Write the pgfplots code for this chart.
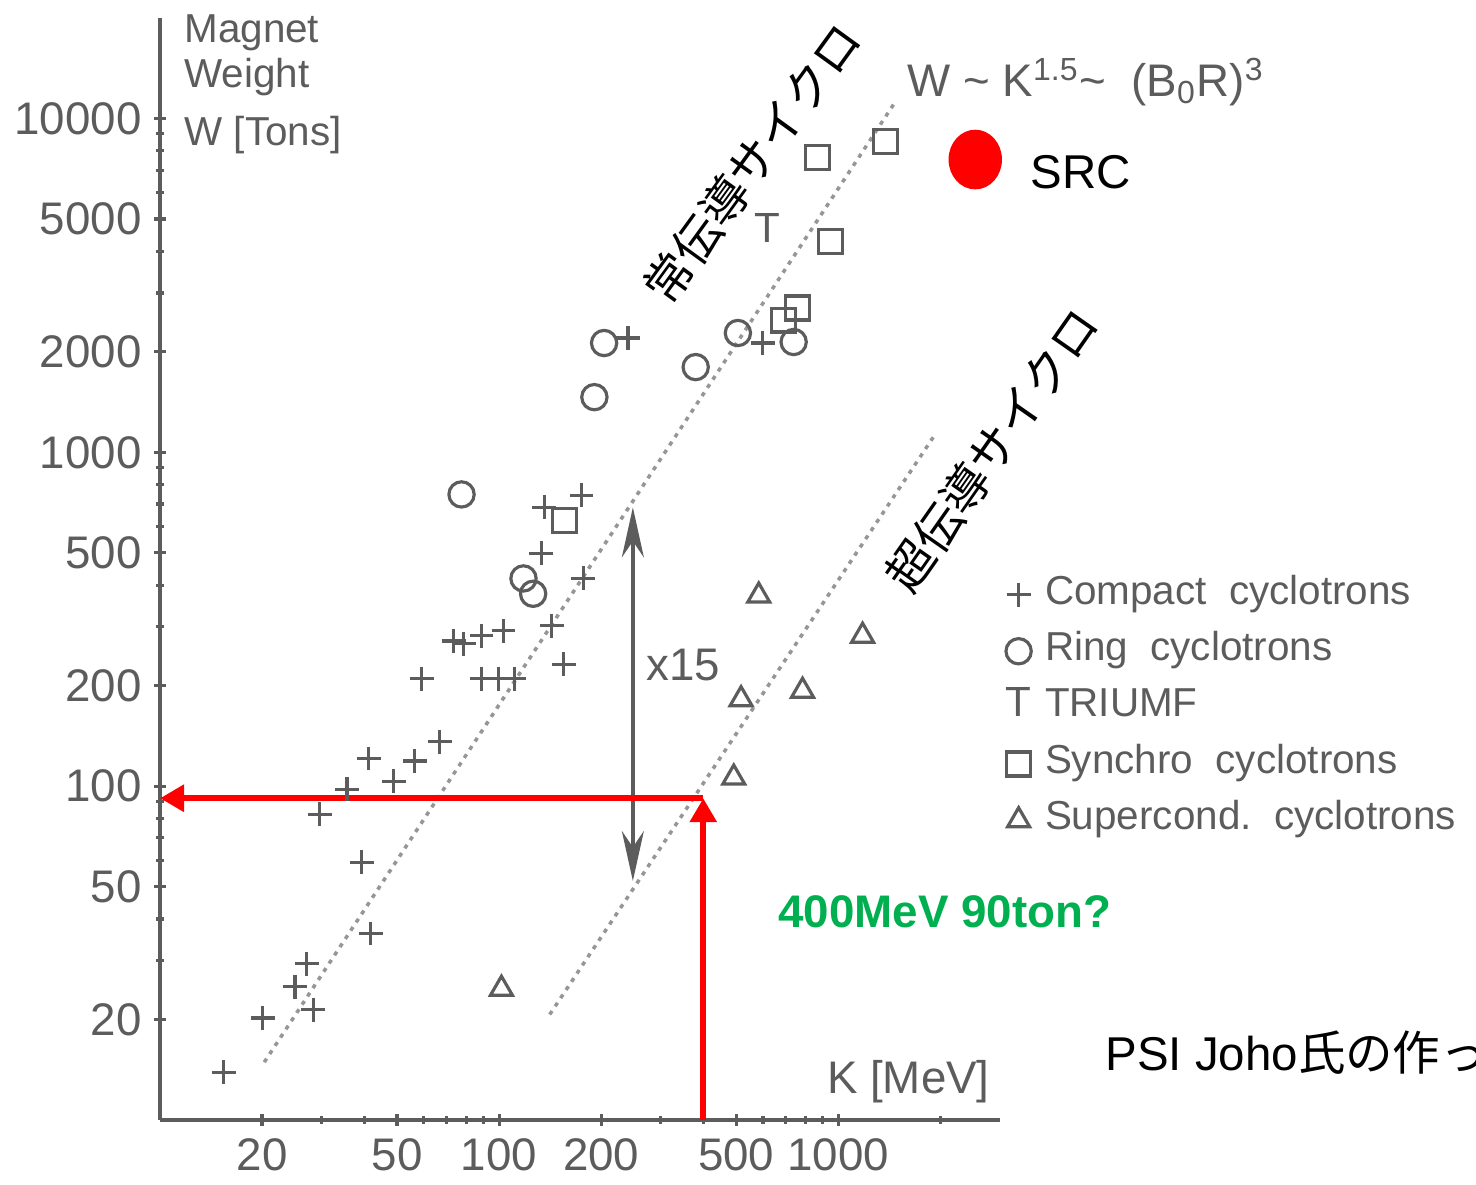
\documentclass[border=0pt]{standalone}
\usepackage{pgfplots}
\pgfplotsset{compat=1.18}
\usepackage{fontspec}
\setmainfont{Liberation Sans}
\newfontfamily\cjk{Noto Sans CJK JP}
\usetikzlibrary{arrows.meta}
\definecolor{scan}{RGB}{92,92,92}
\definecolor{dotline}{RGB}{150,150,150}
\definecolor{okgreen}{RGB}{0,176,80}
\newcommand\fs[1]{\fontsize{#1}{#1}\selectfont}

\begin{document}
\begin{tikzpicture}
\begin{axis}[
  at={(16mm,6.4mm)}, anchor=south west,
  scale only axis, width=84mm, height=110.2mm,
  xmode=log, ymode=log,
  xmin=10, xmax=3000, ymin=10, ymax=20000,
  axis lines*=left,
  axis line style={draw=scan, line width=1.1pt},
  xtick={20,50,100,200,500,1000},
  xticklabels={20,50,100,200,500,1000},
  ytick={20,50,100,200,500,1000,2000,5000,10000},
  yticklabels={20,50,100,200,500,1000,2000,5000,10000},
  minor xtick={30,40,60,70,80,90,300,400,600,700,800,900,2000},
  minor ytick={30,40,60,70,80,90,300,400,600,700,800,900,3000,4000,6000,7000,8000,9000},
  tick align=center,
  major tick length=1.2mm, minor tick length=0.8mm,
  tick style={draw=scan, line width=0.9pt},
  ticklabel style={font=\fs{13}, text=scan},
  xticklabel style={yshift=0mm},
  clip=false,
  legend style={at={(1.006,0.495)}, anchor=north west, draw=none, fill=none,
    font=\fs{11.5}, text=scan, row sep=1.7mm, column sep=1mm, inner sep=0pt,
    nodes={inner sep=1pt, text height=0.72em, text depth=0.2em}},
  legend cell align=left,
  legend image code/.code={\draw[mark repeat=2,mark phase=2,#1]
    plot coordinates {(0cm,0cm) (0.13cm,0cm) (0.26cm,0cm)};},
]
% dotted trend lines W ~ K^1.5
\addplot[dotline, line width=1pt, dash pattern=on 1.2pt off 1.6pt, forget plot]
  coordinates {(20.3,14.9) (1455,11000)};
\addplot[dotline, line width=1pt, dash pattern=on 1.2pt off 1.6pt, forget plot]
  coordinates {(141,20.7) (1906,1109)};
% x15 arrow
\addplot[scan, line width=1pt, {Stealth[length=5mm,width=2.2mm]}-{Stealth[length=5mm,width=2.2mm]}, forget plot]
  coordinates {(248,684) (248,52)};

\addplot[only marks, mark=+, mark size=3.4pt, color=scan, line width=0.9pt]
  coordinates {(15.4,13.9) (20.1,20.2) (27.1,29.4) (25.0,25.1) (28.3,21.4)
    (29.6,82.4) (35.6,98) (39.4,59.1) (41.8,36.2) (41.3,121) (48.9,103.5)
    (56.4,119) (66.8,136) (59.1,210) (73.4,272) (78.6,267) (88.7,282)
    (103,292) (88.7,210) (99.6,210) (111,210) (133,498) (143,302) (155,232)
    (177,419) (136,684) (175,743) (240,2200) (599,2125)};
\addlegendentry{Compact\ \ cyclotrons}
\addplot[only marks, mark=o, mark size=3.6pt, color=scan, line width=0.9pt]
  coordinates {(204,2125) (191,1463) (77.5,748) (118,419) (126,377)
    (380,1800) (506,2277) (739,2140)};
\addlegendentry{Ring\ \ cyclotrons}
\addplot[only marks, mark=text, text mark={T}, color=scan,
  text mark as node=true,
  text mark style={font=\fs{12}, text=scan, inner sep=0pt, anchor=center}]
  coordinates {(620,4705)};
\addlegendentry{TRIUMF}
\addplot[only marks, mark=square, mark size=3.4pt, color=scan, line width=0.9pt]
  coordinates {(156,625) (869,7640) (1378,8530) (949,4272) (759,2706) (690,2490)};
\addlegendentry{Synchro\ \ cyclotrons}
\addplot[only marks, mark=triangle, mark size=3.6pt, color=scan, line width=0.9pt]
  coordinates {(101.6,24.7) (583,372) (1180,282) (517,182) (785,193) (492,106)};
\addlegendentry{Supercond.\ \ cyclotrons}

% 400 MeV -> 90 ton
\addplot[red, line width=1.8pt, -{Triangle[length=2.4mm,width=2.6mm]}, forget plot]
  coordinates {(400,10) (400,92)};
\addplot[red, line width=1.8pt, -{Triangle[length=2.4mm,width=2.6mm]}, forget plot]
  coordinates {(400,92) (10,92)};
% SRC
\addplot[only marks, mark=*, mark size=7.4pt, red, mark options={yscale=1.12}, forget plot]
  coordinates {(2536,7534)};
\end{axis}

\begin{scope}[yshift=118.4mm, x=0.1mm, y=-0.1mm]
  \node[anchor=west, text=scan, font=\fs{11.5}] at (172,33) {Magnet};
  \node[anchor=west, text=scan, font=\fs{11.5}] at (172,77) {Weight};
  \node[anchor=west, text=scan, font=\fs{11.5}] at (172,135) {W [Tons]};
  \node[anchor=east, text=scan, font=\fs{13}] at (1002,1082) {K [MeV]};
  \node[anchor=west, text=scan, font=\fs{13}] at (895,82)
    {W \textasciitilde\ K\textsuperscript{1.5}\textasciitilde\ \ (B\textsubscript{0}R)\textsuperscript{3}};
  \node[anchor=west, text=scan, font=\fs{13}] at (634,665) {x15};
  \node[anchor=west, font=\fs{13.5}] at (1018,172) {SRC};
  \node[rotate=54, font=\cjk\fs{13.5}] at (752,163) {常伝導サイクロ};
  \node[rotate=55, font=\cjk\fs{13.5}] at (992,450) {超伝導サイクロ};
  \node[anchor=west, text=okgreen, font=\bfseries\fs{13}] at (766,912) {400MeV 90ton?};
  \node[anchor=west, font=\fs{13.5}] at (1093,1053) {PSI Joho{\cjk 氏の作った}};
\end{scope}
\pgfresetboundingbox
\path[use as bounding box] (0,0) rectangle (147.6mm,118.4mm);
\end{tikzpicture}
\end{document}
